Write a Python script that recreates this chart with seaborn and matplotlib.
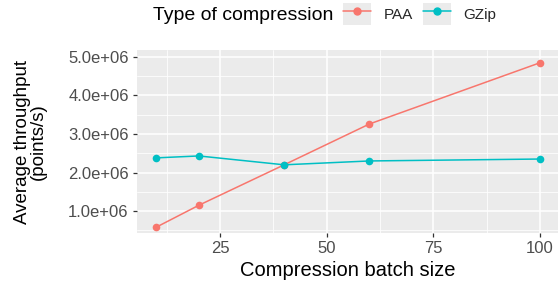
import matplotlib
matplotlib.use("Agg")
import matplotlib.pyplot as plt
import seaborn as sns
import pandas as pd
from matplotlib.patches import Patch
from matplotlib.lines import Line2D
from matplotlib.ticker import FuncFormatter, MultipleLocator

batch_sizes = [10, 20, 40, 60, 100]
paa_throughput = [0.58e6, 1.15e6, 2.20e6, 3.26e6, 4.85e6]
gzip_throughput = [2.38e6, 2.43e6, 2.20e6, 2.30e6, 2.35e6]
series_names = ["PAA", "GZip"]
colors = ["#F8766D", "#00BFC4"]

df = pd.DataFrame({
    "batch": batch_sizes * 2,
    "throughput": paa_throughput + gzip_throughput,
    "type": [series_names[0]] * len(batch_sizes) + [series_names[1]] * len(batch_sizes),
})

sns.set_theme(style="whitegrid")
plt.rcParams["font.family"] = ["Liberation Sans", "DejaVu Sans"]

fig = plt.figure(figsize=(5.6, 2.82), dpi=100)
ax = fig.add_axes([137 / 560, 1 - 233 / 282, (558 - 137) / 560, (233 - 50) / 282])
ax.set_facecolor("#EBEBEB")

sns.lineplot(data=df, x="batch", y="throughput", hue="type", palette=colors,
             hue_order=series_names, marker="o", markersize=5.5, markeredgewidth=0,
             linewidth=1.1, ax=ax, legend=False, zorder=3)

ax.set_xlim(5.5, 104.2)
ax.set_ylim(0.43e6, 5.18e6)
ax.xaxis.set_major_locator(MultipleLocator(25))
ax.xaxis.set_minor_locator(MultipleLocator(12.5))
ax.yaxis.set_major_locator(MultipleLocator(1e6))
ax.yaxis.set_minor_locator(MultipleLocator(0.5e6))
ax.yaxis.set_major_formatter(FuncFormatter(lambda v, p: f"{v:.1e}"))
ax.grid(which="major", color="white", linewidth=1.1)
ax.grid(which="minor", color="white", linewidth=0.55)
ax.set_axisbelow(True)
for s in ax.spines.values():
    s.set_visible(False)
ax.tick_params(axis="both", which="major", length=3, width=0.9, color="#333333",
               labelsize=12, labelcolor="#4D4D4D", pad=3, bottom=True, left=True)
ax.tick_params(which="minor", length=0)

ax.set_xlabel("Compression batch size", fontsize=14.5, color="black", labelpad=3)
ax.set_ylabel("Average throughput\n(points/s)", fontsize=13.5, color="black",
              linespacing=0.92)
ax.yaxis.set_label_coords(-0.215, 0.5)

handles = [(Patch(facecolor="#EBEBEB", edgecolor="none"),
            Line2D([], [], color=c, marker="o", markersize=5, linewidth=1.1))
           for c in colors]
leg = fig.legend(handles, series_names, loc="center left",
                 bbox_to_anchor=(343 / 560, 1 - 14 / 282), ncol=2, frameon=False,
                 fontsize=11, handlelength=1.85, handleheight=1.85,
                 columnspacing=0.65, handletextpad=0.8, borderpad=0, borderaxespad=0)
fig.text(333 / 560, 1 - 15 / 282, "Type of compression", ha="right", va="center",
         fontsize=14, color="black")

fig.savefig("out.png", dpi=100)
